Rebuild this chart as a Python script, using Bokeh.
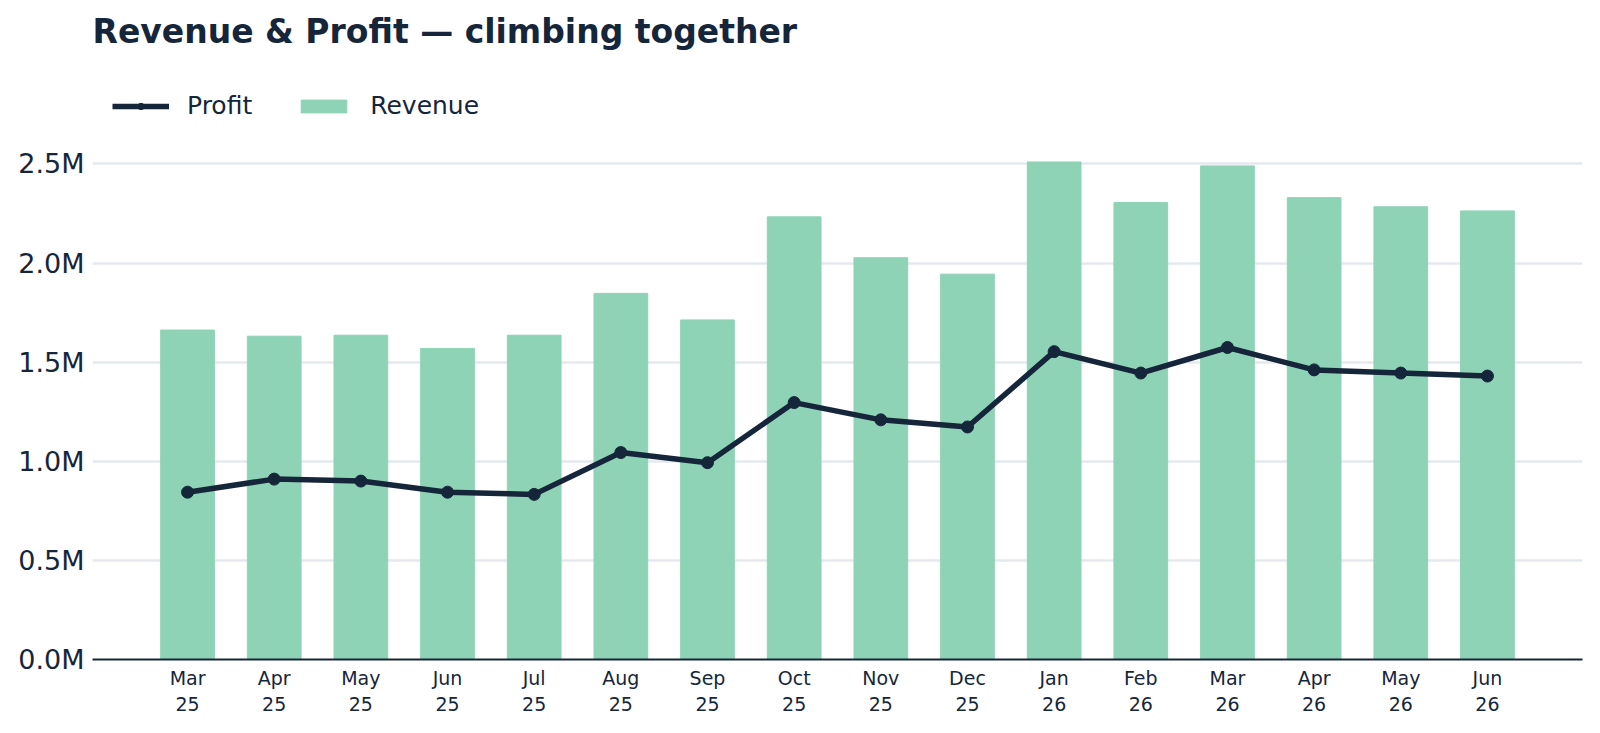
from bokeh.plotting import figure
from bokeh.models import ColumnDataSource, FactorRange, Range1d, Legend, LegendItem, FixedTicker, CustomJSTickFormatter
from bokeh.embed import file_html
from bokeh.resources import INLINE

months = ["Mar\n25", "Apr\n25", "May\n25", "Jun\n25", "Jul\n25", "Aug\n25", "Sep\n25", "Oct\n25",
          "Nov\n25", "Dec\n25", "Jan\n26", "Feb\n26", "Mar\n26", "Apr\n26", "May\n26", "Jun\n26"]
revenue = [1.662, 1.631, 1.636, 1.569, 1.636, 1.847, 1.713, 2.233,
           2.027, 1.944, 2.510, 2.305, 2.490, 2.330, 2.284, 2.263]
profit = [0.844, 0.910, 0.900, 0.844, 0.833, 1.044, 0.993, 1.296,
          1.209, 1.173, 1.553, 1.445, 1.574, 1.461, 1.445, 1.430]
y_ticks = [0.0, 0.5, 1.0, 1.5, 2.0, 2.5]

src = ColumnDataSource(dict(m=months, rev=revenue, prof=profit))

DARK = "#16263a"
BAR = "#8fd3b7"
FONT = "DejaVu Sans"

p = figure(width=1584, height=717, x_range=FactorRange(*months, range_padding=0.0746, range_padding_units="percent"),
           y_range=Range1d(0, 3.047), output_backend="svg", toolbar_location=None,
           min_border_left=92, min_border_right=2, min_border_bottom=55, min_border_top=55)

p.title.text = "Revenue & Profit \u2014 climbing together"
p.title.text_font = FONT
p.title.text_font_size = "33px"
p.title.text_font_style = "bold"
p.title.text_color = DARK

bars = p.vbar(x="m", top="rev", width=0.62, source=src, fill_color=BAR, line_color=BAR)
line = p.line(x="m", y="prof", source=src, line_color=DARK, line_width=5.5)
pts = p.scatter(x="m", y="prof", source=src, size=12, fill_color=DARK, line_color=DARK)

legend = Legend(items=[LegendItem(label="Profit", renderers=[line, pts]),
                       LegendItem(label="Revenue", renderers=[bars])],
                orientation="horizontal", location=(20, 539),
                label_text_font=FONT, label_text_font_size="25px", label_text_color=DARK,
                glyph_width=57, glyph_height=16, spacing=43, label_standoff=18,
                border_line_color=None, background_fill_alpha=0, padding=10, margin=0)
p.add_layout(legend)

p.outline_line_color = None
p.background_fill_color = "white"
p.border_fill_color = "white"

p.xgrid.grid_line_color = None
p.ygrid.grid_line_color = "#e5e9ee"
p.ygrid.grid_line_width = 2.5

p.yaxis.ticker = FixedTicker(ticks=y_ticks)
p.yaxis.formatter = CustomJSTickFormatter(code="return tick.toFixed(1) + 'M';")
p.yaxis.axis_line_color = None
p.yaxis.major_tick_line_color = None
p.yaxis.minor_tick_line_color = None
p.yaxis.major_label_text_font = FONT
p.yaxis.major_label_text_font_size = "27px"
p.yaxis.major_label_text_color = DARK
p.yaxis.major_label_standoff = 2

p.xaxis.axis_line_color = DARK
p.xaxis.axis_line_width = 2
p.xaxis.major_tick_line_color = None
p.xaxis.minor_tick_line_color = None
p.xaxis.major_label_text_font = FONT
p.xaxis.major_label_text_font_size = "19px"
p.xaxis.major_label_text_color = DARK
p.xaxis.major_label_standoff = 1

open("out.html", "w").write(file_html(p, INLINE))
